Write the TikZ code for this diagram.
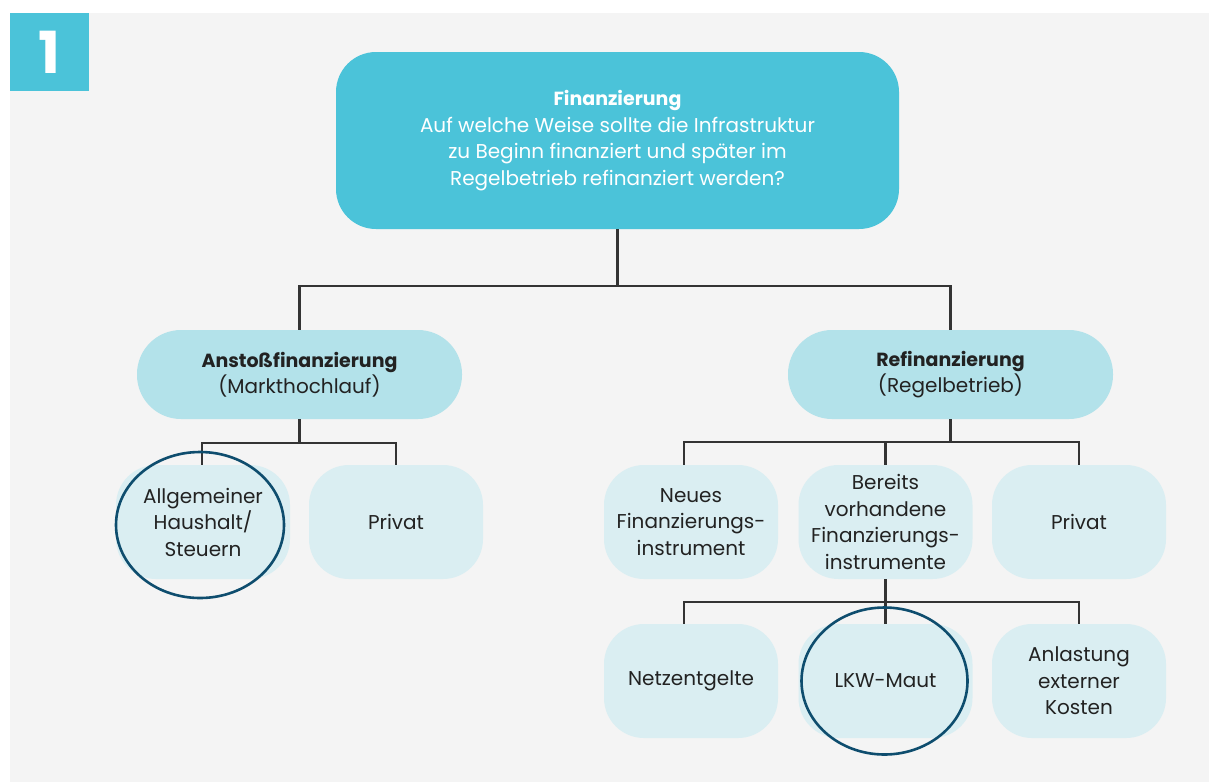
\documentclass[tikz,border=0pt]{standalone}
\usepackage{fontspec}
\setmainfont{Poppins}
\usetikzlibrary{shapes.geometric}
\definecolor{panel}{HTML}{F4F4F4}
\definecolor{topblue}{HTML}{4BC3D9}
\definecolor{midblue}{HTML}{B3E2EA}
\definecolor{paleblue}{HTML}{DAEEF2}
\definecolor{ringblue}{HTML}{0E4D6E}
\definecolor{linegray}{HTML}{333333}
\definecolor{ink}{HTML}{222222}
\newcommand{\headword}[1]{{\fontsize{19}{26.5}\selectfont\bfseries #1}}
\begin{document}
\begin{tikzpicture}[x=1pt,y=-1pt,
  txt/.style={font=\fontsize{20}{26.5}\selectfont, align=center, inner sep=0pt},
  headbox/.style={txt, fill=topblue, text=white, rounded corners=40pt,
    minimum width=563pt, minimum height=177pt},
  pillbox/.style={txt, fill=midblue, text=ink, rounded corners=44pt,
    minimum width=325pt, minimum height=89pt},
  leafbox/.style={txt, fill=paleblue, text=ink, rounded corners=40pt,
    minimum width=174pt, minimum height=114pt},
  conn/.style={draw=linegray, line width=2.2pt},
  ring/.style={ellipse, draw=ringblue, line width=2.6pt, inner sep=0pt,
    minimum width=168pt, minimum height=146pt}]

% canvas and grey panel
\fill[white] (0,0) rectangle (1209,782);
\fill[panel] (10,13) rectangle (1209,782);

% number tab
\node[fill=topblue, text=white, minimum width=79pt, minimum height=78pt, inner sep=0pt,
  font=\fontsize{58}{58}\selectfont\bfseries] (tab) at (49.5,52) {1};

% top question
\node[headbox] (top) at (617.5,140.5)
  {\headword{Finanzierung}\\Auf welche Weise sollte die Infrastruktur\\zu Beginn finanziert und später im\\Regelbetrieb refinanziert werden?};

% second level
\node[pillbox] (anst) at (299.5,374.5) {\headword{Anstoßfinanzierung}\\(Markthochlauf)};
\node[pillbox] (refi) at (950.5,374.5) {\headword{Refinanzierung}\\(Regelbetrieb)};

% third level
\node[leafbox] (allg) at (203,522) {Allgemeiner\\Haushalt/\\Steuern};
\node[leafbox] (priv1) at (396,522) {Privat};
\node[leafbox] (neues) at (691,522) {Neues\\Finanzierungs-\\instrument};
\node[leafbox] (bereits) at (885.5,522) {Bereits\\vorhandene\\Finanzierungs-\\instrumente};
\node[leafbox] (priv2) at (1079,522) {Privat};

% fourth level
\node[leafbox] (netz) at (691,681) {Netzentgelte};
\node[leafbox] (lkw) at (885.5,681) {LKW-Maut};
\node[leafbox] (anl) at (1079,681) {Anlastung\\externer\\Kosten};

% junctions
\coordinate (j1) at (617.5,286);
\coordinate (j2) at (299.5,443);
\coordinate (j3) at (950.5,442);
\coordinate (j4) at (885.5,602);

% connectors
\draw[conn] (top.south) -- (j1);
\draw[conn] (anst.north) |- (j1) -| (refi.north);
\draw[conn] (anst.south) -- (j2);
\draw[conn] (allg.north -| 202,0) |- (j2) -| (priv1.north);
\draw[conn] (refi.south) -- (j3);
\draw[conn] ([xshift=-7pt]neues.north) |- (j3) -| (priv2.north);
\draw[conn] (bereits.north) -- (bereits.north |- j3);
\draw[conn] (bereits.south) -- (j4);
\draw[conn] ([xshift=-7pt]netz.north) |- (j4) -| (anl.north);
\draw[conn] (lkw.north) -- (lkw.north |- j4);

% highlight rings
\node[ring] (ring1) at (200,525) {};
\node[ring, minimum width=166pt, minimum height=147pt] (ring2) at (884.5,681) {};
\end{tikzpicture}
\end{document}
